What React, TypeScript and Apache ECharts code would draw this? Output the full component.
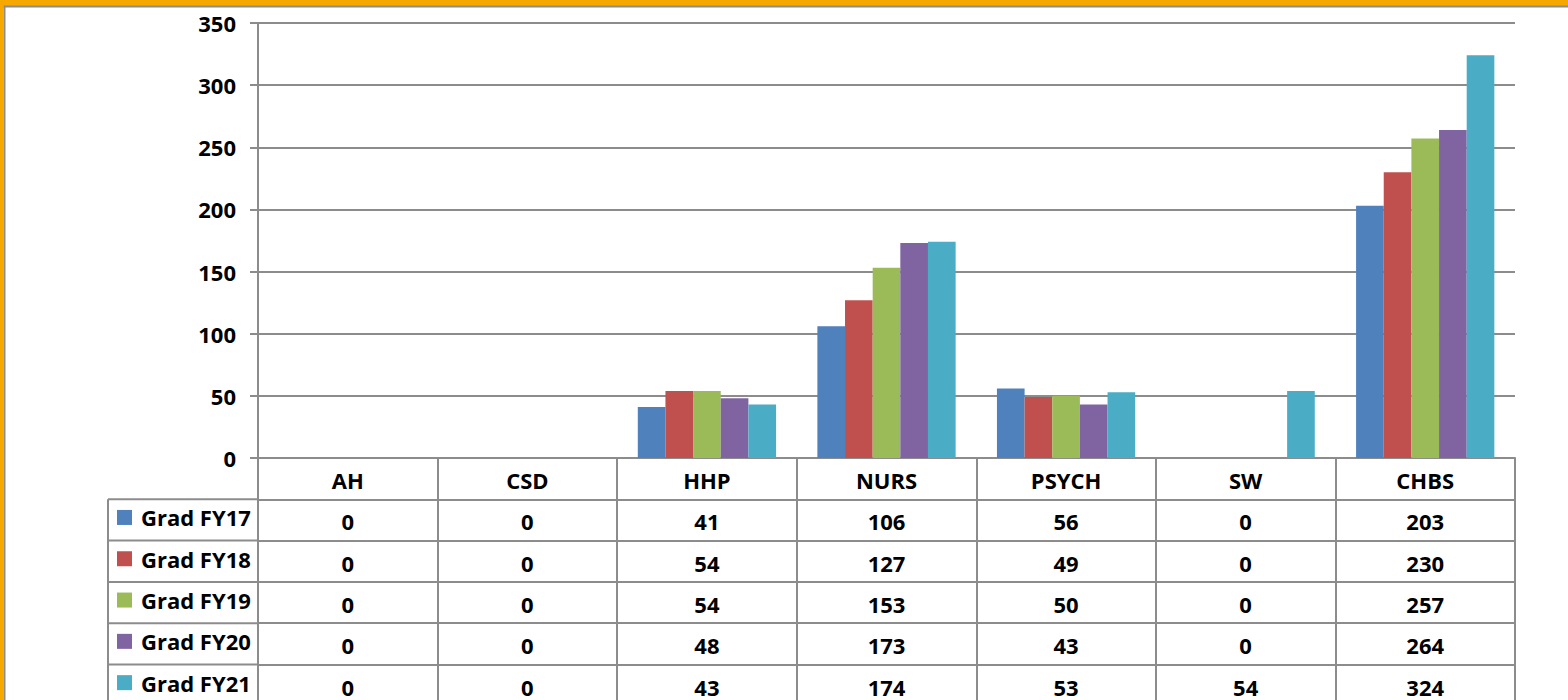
import React, { useEffect, useRef } from "react";
import * as echarts from "echarts";

const CATEGORIES = ["AH", "CSD", "HHP", "NURS", "PSYCH", "SW", "CHBS"];
const SERIES_NAMES = ["Grad FY17", "Grad FY18", "Grad FY19", "Grad FY20", "Grad FY21"];
const FY17 = [0, 0, 41, 106, 56, 0, 203];
const FY18 = [0, 0, 54, 127, 49, 0, 230];
const FY19 = [0, 0, 54, 153, 50, 0, 257];
const FY20 = [0, 0, 48, 173, 43, 0, 264];
const FY21 = [0, 0, 43, 174, 53, 54, 324];
const VALUES = [FY17, FY18, FY19, FY20, FY21];
const COLORS = ["#4F81BD", "#C0504D", "#9BBB59", "#8064A2", "#4BACC6"];
const Y_MIN = 0;
const Y_MAX = 350;
const Y_INTERVAL = 50;

// layout
const W = 1568;
const H = 700;
const GRID_LEFT = 258;
const GRID_RIGHT = 1515;
const GRID_TOP = 23;
const GRID_BOTTOM = 458;
const ROW_H = 41.3;
const TABLE_LEFT = 108;
const LINE = "#8c8c8c";
const FONT = "Open Sans";
const FS = 22;

export default function App() {
  const ref = useRef<HTMLDivElement>(null);
  useEffect(() => {
    if (!ref.current) return;
    const chart = echarts.init(ref.current, undefined, { renderer: "svg" });

    const textStyle = { fontFamily: FONT, fontWeight: "bold" as const, fontSize: FS, color: "#000" };

    const xAxes: any[] = [];
    for (let k = 0; k <= VALUES.length; k++) {
      xAxes.push({
        type: "category",
        data: CATEGORIES,
        gridIndex: 0,
        position: "bottom",
        offset: k * ROW_H,
        boundaryGap: true,
        axisLine: { show: true, lineStyle: { color: LINE, width: 2 } },
        axisTick: { show: true, interval: 0, length: ROW_H, alignWithLabel: false, lineStyle: { color: LINE, width: 2 } },
        axisLabel: {
          ...textStyle,
          interval: 0,
          margin: 22,
          verticalAlign: "middle",
          formatter:
            k === 0
              ? (v: string) => v
              : (_v: string, i: number) => String(VALUES[k - 1][i]),
        },
        splitLine: { show: false },
      });
    }

    const graphics: any[] = [
      { type: "rect", shape: { x: 0, y: 0, width: W, height: 6 }, style: { fill: "#F6A800" }, silent: true },
      { type: "rect", shape: { x: 0, y: 0, width: 3.5, height: H }, style: { fill: "#F6A800" }, silent: true },
      { type: "line", shape: { x1: 3.5, y1: 6.5, x2: W, y2: 6.5 }, style: { stroke: LINE, lineWidth: 2 }, silent: true },
      { type: "line", shape: { x1: 4.5, y1: 6.5, x2: 4.5, y2: H }, style: { stroke: LINE, lineWidth: 2 }, silent: true },
      { type: "line", shape: { x1: TABLE_LEFT, y1: GRID_BOTTOM + ROW_H, x2: TABLE_LEFT, y2: H }, style: { stroke: LINE, lineWidth: 2 }, silent: true },
    ];
    for (let k = 1; k <= VALUES.length; k++) {
      const y = GRID_BOTTOM + k * ROW_H;
      graphics.push({ type: "line", shape: { x1: TABLE_LEFT, y1: y, x2: GRID_LEFT, y2: y }, style: { stroke: LINE, lineWidth: 2 }, silent: true });
    }

    const legends = SERIES_NAMES.map((name, k) => ({
      orient: "vertical",
      left: 117,
      top: GRID_BOTTOM + ROW_H * (k + 1) + ROW_H / 2 - 2 - 11.5,
      padding: 0,
      itemWidth: 15,
      itemHeight: 15,
      icon: "rect",
      data: [name],
      selectedMode: false,
      textStyle: { ...textStyle, padding: [0, 0, 0, 4] },
    }));

    chart.setOption({
      animation: false,
      backgroundColor: "#fff",
      color: COLORS,
      grid: { left: GRID_LEFT, right: W - GRID_RIGHT, top: GRID_TOP, bottom: H - GRID_BOTTOM, containLabel: false },
      legend: legends,
      xAxis: xAxes,
      yAxis: {
        type: "value",
        min: Y_MIN,
        max: Y_MAX,
        interval: Y_INTERVAL,
        axisLine: { show: true, lineStyle: { color: LINE, width: 2 } },
        axisTick: { show: true, length: 8, lineStyle: { color: LINE, width: 2 } },
        axisLabel: { ...textStyle, margin: 22 },
        splitLine: { show: true, lineStyle: { color: LINE, width: 2 } },
      },
      series: VALUES.map((vals, i) => ({
        name: SERIES_NAMES[i],
        type: "bar",
        xAxisIndex: 0,
        data: vals,
        barGap: "0%",
        barCategoryGap: "23%",
        itemStyle: { color: COLORS[i] },
      })),
      graphic: graphics,
    });
    return () => chart.dispose();
  }, []);
  return <div ref={ref} style={{ position: "fixed", left: 0, top: 0, width: W, height: H }} />;
}
